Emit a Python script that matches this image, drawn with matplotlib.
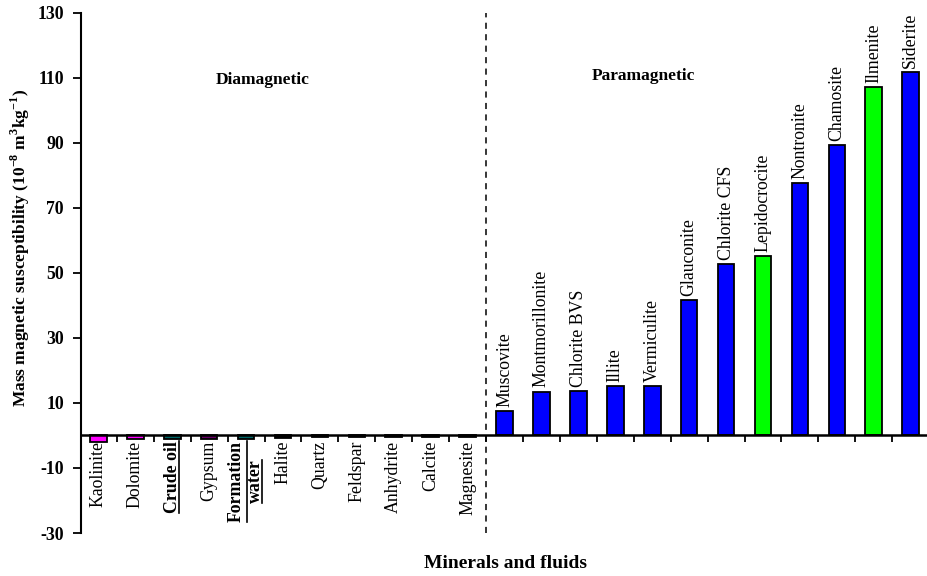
import matplotlib
matplotlib.use("Agg")
import matplotlib.pyplot as plt
from matplotlib.lines import Line2D
import numpy as np

plt.rcParams['font.family'] = ['Liberation Serif', 'DejaVu Serif']
plt.rcParams['mathtext.fontset'] = 'custom'
plt.rcParams['mathtext.rm'] = 'Liberation Serif'
plt.rcParams['mathtext.bf'] = 'Liberation Serif:bold'
plt.rcParams['axes.unicode_minus'] = False

dia_names = ["Kaolinite", "Dolomite", "Crude oil", "Gypsum", "Formation\nwater",
             "Halite", "Quartz", "Feldspar", "Anhydrite", "Calcite", "Magnesite"]
dia_values = [-2.0, -1.2, -1.0, -1.0, -1.0, -0.8, -0.6, -0.6, -0.6, -0.5, -0.4]
dia_colors = ["#FF00FF", "#FF00FF", "#006666", "#660066", "#006666",
              "#000000", "#000000", "#000000", "#000000", "#000000", "#000000"]

para_names = ["Muscovite", "Montmorillonite", "Chlorite BVS", "Illite", "Vermiculite",
              "Glauconite", "Chlorite CFS", "Lepidocrocite", "Nontronite", "Chamosite",
              "Ilmenite", "Siderite"]
para_values = [7.6, 13.5, 13.7, 15.1, 15.3, 41.7, 52.6, 55.2, 77.6, 89.2, 107.1, 111.8]
para_colors = ["#0000FF", "#0000FF", "#0000FF", "#0000FF", "#0000FF", "#0000FF",
               "#0000FF", "#00FF00", "#0000FF", "#0000FF", "#00FF00", "#0000FF"]

y_ticks = [-30, -10, 10, 30, 50, 70, 90, 110, 130]
fluid_labels = ["Crude oil", "Formation\nwater"]

names = dia_names + para_names
values = dia_values + para_values
colors = dia_colors + para_colors
n_dia = len(dia_names)
x = np.arange(len(names))

LINESPACING = 1.2

fig = plt.figure(figsize=(9.28, 5.76), dpi=100)
ax = fig.add_axes([80.7 / 928, 43 / 576, 1 - 80.7 / 928, (533 - 12.7) / 576])

ax.bar(x, values, width=0.45, color=colors, edgecolor='black', linewidth=1.3, zorder=3)

ax.set_xlim(-0.48, 22.47)
ax.set_ylim(-30, 130)
ax.set_yticks(y_ticks)
ax.tick_params(axis='y', direction='out', length=6, width=1.3, pad=6, labelsize=12.8)
for lab in ax.get_yticklabels():
    lab.set_fontweight('bold')

ax.spines['top'].set_visible(False)
ax.spines['right'].set_visible(False)
ax.spines['left'].set_linewidth(1.5)
ax.spines['bottom'].set_linewidth(1.8)
ax.spines['bottom'].set_position(('data', 0))
ax.spines['bottom'].set_zorder(4)

ax.set_xticks(x[:n_dia])
ax.set_xticklabels(dia_names, rotation=90, fontsize=12.8, va='top', ha='center',
                   multialignment='center', linespacing=LINESPACING)
ax.set_xticks(np.arange(0.5, 22, 1.0), minor=True)
ax.tick_params(axis='x', which='major', length=0, pad=4)
ax.tick_params(axis='x', which='minor', direction='out', length=5, width=1.3)
for lab in ax.get_xticklabels():
    if lab.get_text() in fluid_labels:
        lab.set_fontweight('bold')

for i, (nm, v) in enumerate(zip(para_names, para_values)):
    ax.annotate(nm, (n_dia + i, v), xytext=(0, 3), textcoords='offset points',
                rotation=90, ha='center', va='bottom', fontsize=12.8)

ax.axvline(n_dia - 0.5, color='black', linestyle=(0, (4, 3.5)), linewidth=1.1, zorder=2)

ax.text(4.45, 109.4, "Diamagnetic", fontweight='bold', fontsize=12.5, ha='center', va='center')
ax.text(14.75, 110.4, "Paramagnetic", fontweight='bold', fontsize=12.5, ha='center', va='center')

ax.set_ylabel(r'Mass magnetic susceptibility (10$^{\mathbf{-8}}$ m$^{\mathbf{3}}$kg$^{\mathbf{-1}}$)',
              fontweight='bold', fontsize=12.5)
ax.yaxis.set_label_coords(-0.058, 0.548)
fig.text(505 / 928, 1 - 563 / 576, "Minerals and fluids", fontweight='bold', fontsize=14,
         ha='center', va='center')

# underline the fluid labels
fig.canvas.draw()
renderer = fig.canvas.get_renderer()
for lab in ax.get_xticklabels():
    txt = lab.get_text()
    if txt not in fluid_labels:
        continue
    bb = lab.get_window_extent(renderer)
    lines = txt.split("\n")
    fp = lab.get_fontproperties()
    _, lp_h, lp_d = renderer.get_text_width_height_descent("lp", fp, ismath=False)
    step = (lp_h - lp_d) * LINESPACING
    ycen = 0.5 * (bb.y0 + bb.y1)
    nl = len(lines)
    for k, line in enumerate(lines):
        w, h, d = renderer.get_text_width_height_descent(line, fp, ismath=False)
        xl = bb.x1 - 2.0 - (nl - 1 - k) * step
        l = Line2D([xl, xl], [ycen - w / 2, ycen + w / 2], color='black', linewidth=1.2,
                   transform=None)
        fig.add_artist(l)

fig.savefig("out.png", dpi=100)
